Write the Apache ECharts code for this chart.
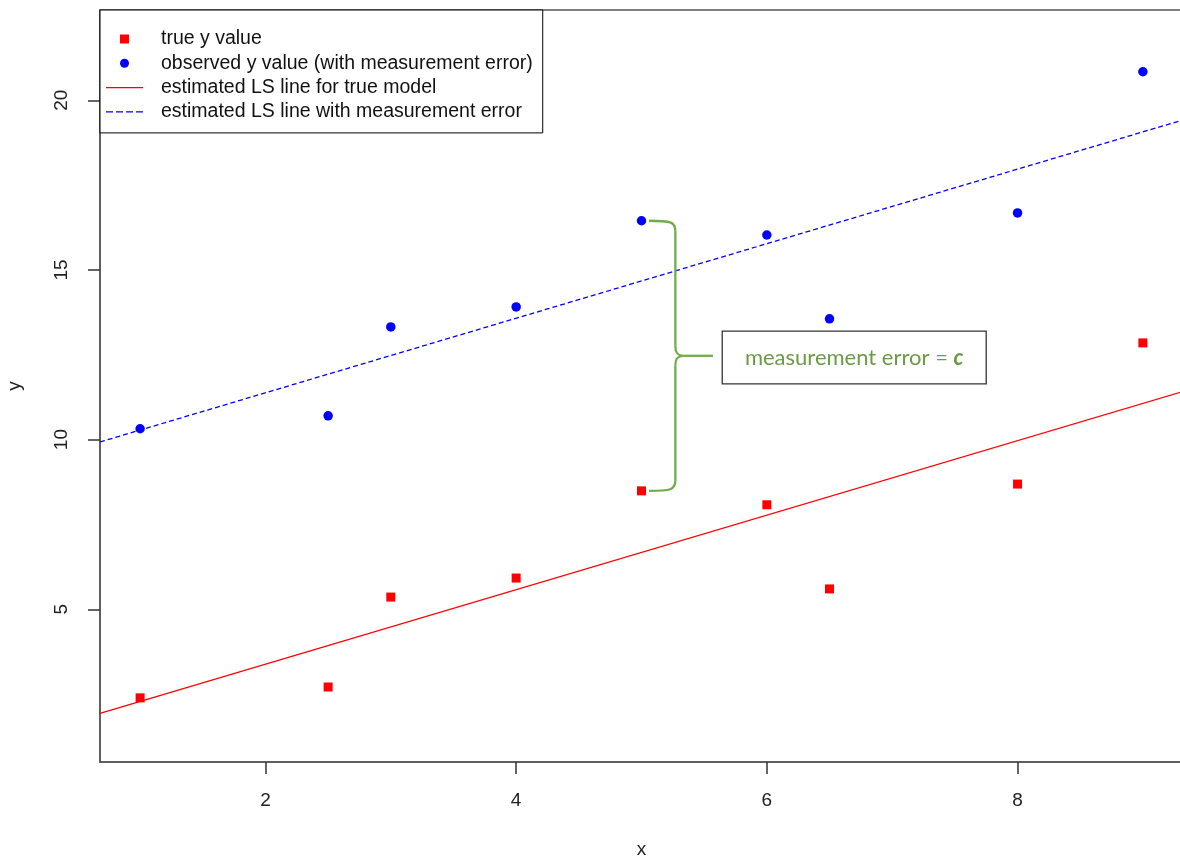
<!DOCTYPE html>
<html>
<head>
<meta charset="utf-8">
<script src="https://cdn.jsdelivr.net/npm/echarts@6/dist/echarts.min.js"></script>
<style>
html,body{margin:0;padding:0;background:#fff;}
#chart{width:1180px;height:859px;}
</style>
</head>
<body>
<div id="chart"></div>
<script>
// ---- data ----
const xValues = [1, 2.5, 3, 4, 5, 6, 6.5, 8, 9];
const trueY = [2.39, 2.71, 5.36, 5.92, 8.49, 8.08, 5.60, 8.69, 12.85];
const observedY = [10.32, 10.70, 13.32, 13.91, 16.45, 16.03, 13.56, 16.68, 20.84];
const lineX = [0.68, 9.32];
const trueLineY = [1.93, 11.42];
const observedLineY = [9.93, 19.42];
const xTicks = [2, 4, 6, 8];
const yTicks = [5, 10, 15, 20];
const seriesNames = [
  'true y value',
  'observed y value (with measurement error)',
  'estimated LS line for true model',
  'estimated LS line with measurement error'
];
const annotationText = 'measurement error = ';
const annotationSymbol = 'c';

const pairs = (xs, ys) => xs.map((x, i) => [x, ys[i]]);

const chart = echarts.init(document.getElementById('chart'));
const axisColor = '#555';
const font = '"Liberation Sans", Arial, sans-serif';

// legend icons (bounding box 37 x 10 so nothing is stretched)
const box = 'M0,0 M37,10 ';
const iconSquare = 'path://' + box + 'M14,0.5h9v9h-9z';
const iconCircle = 'path://' + box + 'M14,5a4.5,4.5 0 1,0 9,0a4.5,4.5 0 1,0 -9,0z';
const iconSolid = 'path://' + box + 'M0,4.4h37v1.3h-37z';
const iconDashed = 'path://' + box + 'M0,4.4h7v1.3h-7z M10,4.4h7v1.3h-7z M20,4.4h7v1.3h-7z M30,4.4h7v1.3h-7z';

chart.setOption({
  animation: false,
  backgroundColor: '#fff',
  grid: {
    left: 100, right: -3, top: 10, bottom: 97,
    containLabel: false, outerBoundsMode: 'none',
    show: true, borderColor: axisColor, borderWidth: 1.5
  },
  xAxis: {
    type: 'value', min: 0.68, max: 9.32,
    name: 'x', nameLocation: 'middle', nameGap: 78,
    nameTextStyle: { fontFamily: font, fontSize: 19, color: '#222' },
    axisLine: { show: true, onZero: false, lineStyle: { color: axisColor, width: 1.5 } },
    axisTick: { show: true, length: 12, customValues: xTicks, lineStyle: { color: '#333', width: 1.5 } },
    axisLabel: { customValues: xTicks, margin: 29, fontFamily: font, fontSize: 19, color: '#222' },
    splitLine: { show: false }
  },
  yAxis: {
    type: 'value', min: 0.5, max: 22.66,
    name: 'y', nameLocation: 'middle', nameGap: 76, nameRotate: 90,
    nameTextStyle: { fontFamily: font, fontSize: 19, color: '#222' },
    axisLine: { show: true, onZero: false, lineStyle: { color: axisColor, width: 1.5 } },
    axisTick: { show: true, length: 12, customValues: yTicks, lineStyle: { color: '#333', width: 1.5 } },
    axisLabel: { customValues: yTicks, rotate: 90, margin: 29, fontFamily: font, fontSize: 19, color: '#222' },
    splitLine: { show: false }
  },
  legend: {
    orient: 'vertical', left: 100, top: 10,
    padding: [19, 10, 11, 6],
    itemGap: 4.3, itemWidth: 37, itemHeight: 10,
    borderColor: '#000', borderWidth: 1, backgroundColor: '#fff',
    textStyle: { fontFamily: font, fontSize: 19.5, lineHeight: 20, color: '#111', padding: [0, 0, 0, 13] },
    data: [
      { name: seriesNames[0], icon: iconSquare },
      { name: seriesNames[1], icon: iconCircle },
      { name: seriesNames[2], icon: iconSolid },
      { name: seriesNames[3], icon: iconDashed }
    ]
  },
  series: [
    {
      name: seriesNames[2], type: 'line', data: pairs(lineX, trueLineY),
      showSymbol: false, symbol: 'none', z: 2,
      lineStyle: { color: '#ff0000', width: 1.3 }, itemStyle: { color: '#ff0000' }
    },
    {
      name: seriesNames[3], type: 'line', data: pairs(lineX, observedLineY),
      showSymbol: false, symbol: 'none', z: 2,
      lineStyle: { color: '#0000ff', width: 1.3, type: [5, 3] }, itemStyle: { color: '#0000ff' }
    },
    {
      name: seriesNames[0], type: 'scatter', data: pairs(xValues, trueY),
      symbol: 'rect', symbolSize: 9, z: 3, itemStyle: { color: '#ff0000', opacity: 1 }
    },
    {
      name: seriesNames[1], type: 'scatter', data: pairs(xValues, observedY),
      symbol: 'circle', symbolSize: 9.5, z: 3, itemStyle: { color: '#0000ff', opacity: 1 }
    }
  ]
});

// ---- annotation (brace + label box), anchored in data space ----
function px(x, y) { return chart.convertToPixel({ gridIndex: 0 }, [x, y]); }
const braceTop = px(5.06, observedY[4]);
const braceBot = px(5.06, trueY[4]);
const yT = braceTop[1], yB = braceBot[1];
const midY = (yT + yB) / 2;
const xv = px(5.27, 0)[0];
const xTip = px(5.57, 0)[0];
const x0 = braceTop[0];
const rr = 10;
const braceStyle = { stroke: '#70ad47', lineWidth: 2.3, fill: 'none' };
const bz = (a, b, c1, c2) => ({
  type: 'bezierCurve', z: 10, silent: true,
  shape: { x1: a[0], y1: a[1], x2: b[0], y2: b[1], cpx1: c1[0], cpy1: c1[1], cpx2: c2[0], cpy2: c2[1] },
  style: braceStyle
});
const ln = (a, b) => ({
  type: 'line', z: 10, silent: true,
  shape: { x1: a[0], y1: a[1], x2: b[0], y2: b[1] },
  style: braceStyle
});
const b1 = px(5.644, 13.20);
const b2 = px(7.75, 11.64);

chart.setOption({
  graphic: [
    bz([x0, yT], [xv, yT + rr], [xv - 5, yT], [xv, yT + 1]),
    ln([xv, yT + rr], [xv, midY - rr]),
    bz([xv, midY - rr], [xv + 8, midY], [xv, midY - 3], [xv + 2, midY]),
    ln([xv + 8, midY], [xTip, midY]),
    bz([xv + 8, midY], [xv, midY + rr], [xv + 2, midY], [xv, midY + 3]),
    ln([xv, midY + rr], [xv, yB - rr]),
    bz([xv, yB - rr], [x0, yB], [xv, yB - 1], [xv - 5, yB]),
    {
      type: 'rect', z: 10,
      shape: { x: b1[0], y: b1[1], width: b2[0] - b1[0], height: b2[1] - b1[1] },
      style: { fill: '#fff', stroke: '#333', lineWidth: 1.3 }
    },
    {
      type: 'text', z: 11,
      x: (b1[0] + b2[0]) / 2, y: (b1[1] + b2[1]) / 2,
      style: {
        text: `{a|${annotationText}}{b|${annotationSymbol}}`,
        align: 'center', verticalAlign: 'middle',
        rich: {
          a: { fontFamily: 'Lato, "Open Sans", sans-serif', fontSize: 22, fill: '#6a9b47', color: '#6a9b47' },
          b: { fontFamily: 'Lato, "Open Sans", sans-serif', fontSize: 22, fontWeight: 'bold', fontStyle: 'italic', fill: '#6a9b47', color: '#6a9b47' }
        }
      }
    }
  ]
});
</script>
</body>
</html>
